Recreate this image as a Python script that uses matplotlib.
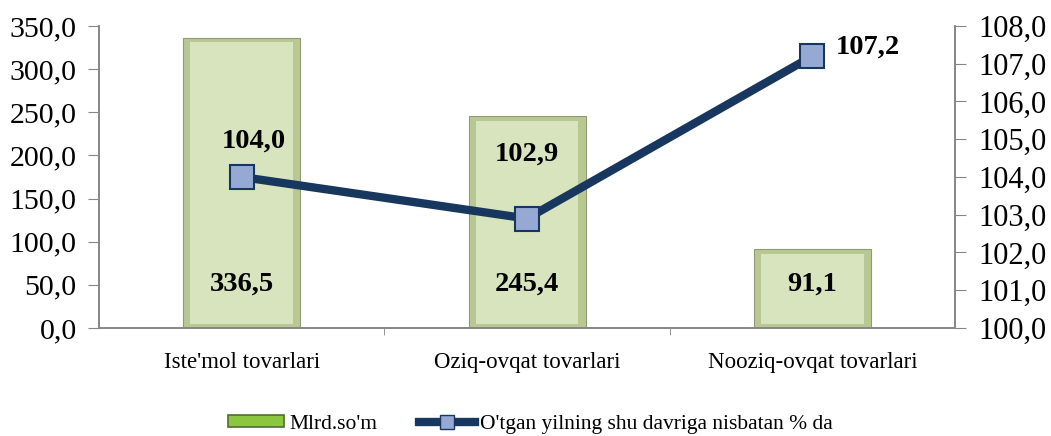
import matplotlib.pyplot as plt
from matplotlib.patches import Patch
from matplotlib.lines import Line2D
from matplotlib.ticker import FuncFormatter

plt.rcParams['font.family'] = ['Liberation Serif', 'DejaVu Serif']

# data
categories = ["Iste'mol tovarlari", "Oziq-ovqat tovarlari", "Nooziq-ovqat tovarlari"]
volume_mlrd = [336.5, 245.4, 91.1]
growth_pct = [104.0, 102.9, 107.2]
bar_name = "Mlrd.so'm"
line_name = "O'tgan yilning shu davriga nisbatan % da"

line_clr = "#17375e"
marker_face = "#95a9d4"
bar_face = "#d7e4bd"
bevel_clr = "#b9c893"
axis_clr = "#868686"

fig = plt.figure(figsize=(10.51, 4.36), dpi=100)
ax = fig.add_axes([0.0942, 0.2477, 0.8145, 0.6927])
x = list(range(len(categories)))

# bars with a crude bevel: darker outer bar, lighter inner bar
bw = 0.41
bev = 5
ax.bar(x, volume_mlrd, width=bw, color=bevel_clr, edgecolor="#8f9b74", linewidth=0.8, zorder=2)
ax.bar(x, [v - 2 * bev for v in volume_mlrd], bottom=bev, width=bw - 0.05,
       color=bar_face, linewidth=0, zorder=3)
for xi, v in zip(x, volume_mlrd):
  ax.text(xi, 51, f"{v:.1f}".replace(".", ","), ha="center", va="center",
          fontsize=20.5, fontweight="bold", zorder=6)

ax.set_xlim(-0.5, len(categories) - 0.5)
ax.set_ylim(0, 350)
ax.set_yticks(range(0, 351, 50))
fmt = FuncFormatter(lambda v, p: f"{v:.1f}".replace(".", ","))
ax.yaxis.set_major_formatter(fmt)
ax.tick_params(axis="y", labelsize=21.5, length=8, color=axis_clr, direction="out", pad=8)
ax.set_xticks(x)
ax.set_xticklabels(categories, fontsize=16.5)
ax.set_xticks([0.5, 1.5], minor=True)
ax.tick_params(axis="x", which="major", length=0, pad=17)
ax.tick_params(axis="x", which="minor", length=5, color=axis_clr)

ax2 = ax.twinx()
ax2.plot(x, growth_pct, color=line_clr, linewidth=6, marker="s", markersize=17,
         markerfacecolor=marker_face, markeredgecolor=line_clr, markeredgewidth=1.5,
         zorder=5, solid_capstyle="butt")
ax2.set_ylim(100, 108)
ax2.set_yticks(range(100, 109))
ax2.yaxis.set_major_formatter(fmt)
ax2.tick_params(axis="y", labelsize=22, length=8, color=axis_clr, direction="out", pad=9)

offsets = [(12, 36), (0, 64), (56, 9)]
for xi, v, off in zip(x, growth_pct, offsets):
  ax2.annotate(f"{v:.1f}".replace(".", ","), (xi, v), xytext=off, textcoords="offset pixels",
               ha="center", va="center", fontsize=20.5, fontweight="bold", zorder=6)

for a in (ax, ax2):
  a.spines["top"].set_visible(False)
  for s in ("left", "right", "bottom"):
    a.spines[s].set_color(axis_clr)
    a.spines[s].set_linewidth(1.2)

handles = [Patch(facecolor="#8cc63f", edgecolor="#4f6e2a", linewidth=1.2),
           Line2D([0], [0], color=line_clr, linewidth=6, marker="s", markersize=10,
                  markerfacecolor=marker_face, markeredgecolor=line_clr)]
fig.legend(handles, [bar_name, line_name], loc="center", bbox_to_anchor=(0.505, 0.0275),
           ncol=2, frameon=False, fontsize=15.5, handlelength=2.6, handletextpad=0.23,
           columnspacing=1.95, handleheight=0.45)

plt.savefig("out.png", dpi=100)
